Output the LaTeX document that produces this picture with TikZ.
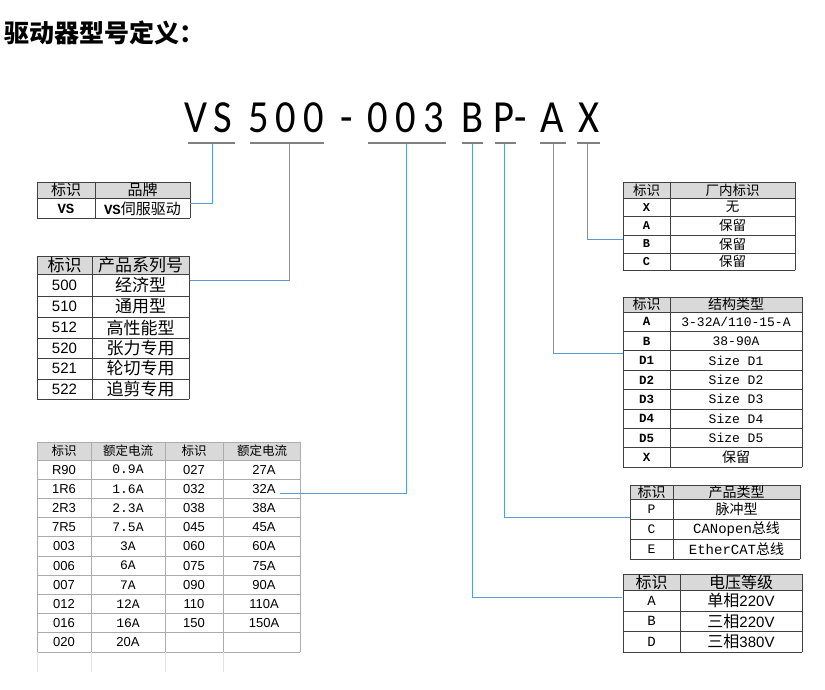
\documentclass[tikz,border=0pt]{standalone}
\usepackage{fontspec}
\newfontfamily\cjk{Noto Sans CJK SC}
\newfontfamily\mono{Liberation Mono}
\newfontfamily\lsans{Liberation Sans}
\newfontfamily\codefont[FakeStretch=0.88]{Carlito}
\definecolor{connc}{HTML}{5B9BD5}
\definecolor{hdr}{HTML}{D9D9D9}
\definecolor{gridc}{HTML}{404040}
\definecolor{ulc}{HTML}{808080}
\newcommand{\fs}[1]{\fontsize{#1}{#1}\selectfont}
\begin{document}
\begin{tikzpicture}[x=1pt,y=-1pt,
  tx/.style={inner sep=0pt, text=black},
  tline/.style={draw=gridc, line width=0.9pt},
  gline/.style={draw=gray!65, line width=1pt},
  conn/.style={draw=connc, line width=0.8pt},
  uline/.style={draw=ulc, line width=2pt},
  code/.style={inner sep=0pt, anchor=base, font=\codefont\fs{46}}]
\fill[white] (0,0) rectangle (825,689);
\useasboundingbox (0,0) rectangle (825,689);

% title
\node[tx, anchor=west, font=\cjk\bfseries\fs{25}] (title) at (4,33) {驱动器型号定义：};

% model code
\foreach \c/\x [count=\i] in {V/196,S/222.5,5/258.5,0/285.5,0/314,-/346.5,0/377.5,0/406,3/434,B/473,P/504,-/521,A/552.5,X/588.5}
  \node[code] (c\i) at (\x,132) {\c};

% underlines
\draw[uline] (188,143) -- (235,143);
\draw[uline] (250,143) -- (324,143);
\draw[uline] (368,143) -- (446,143);
\draw[uline] (462,143) -- (483,143);
\draw[uline] (495,143) -- (516,143);
\draw[uline] (540,143) -- (566,143);
\draw[uline] (577,143) -- (600,143);
\coordinate (u1) at (212,144);
\coordinate (u2) at (289,144);
\coordinate (u3) at (406,144);
\coordinate (u4) at (472,144);
\coordinate (u5) at (504,144);
\coordinate (u6) at (553,144);
\coordinate (u7) at (587,144);

% ---------- T1 brand
\fill[hdr] (37,182) rectangle (190,198);
\foreach \y in {182,198,218} \draw[tline] (37,\y) -- (190,\y);
\foreach \x in {37,95,190} \draw[tline] (\x,182) -- (\x,218);
\node[tx, font=\cjk\fs{15}] (t1a) at (66,190) {标识};
\node[tx, font=\cjk\fs{15}] (t1b) at (142.5,190) {品牌};
\node[tx, font=\mono\bfseries\fs{14}] (t1c) at (66,208.5) {VS};
\node[tx] (t1d) at (142.5,208.5) {{\mono\bfseries\fs{14}VS}{\cjk\fs{15}伺服驱动}};
\coordinate (e1) at (190,203);

% ---------- T2 series
\fill[hdr] (37,256) rectangle (189,274);
\foreach \y in {256,274,296,317,338,358,379,399} \draw[tline] (37,\y) -- (189,\y);
\foreach \x in {37,92,189} \draw[tline] (\x,256) -- (\x,399);
\node[tx, font=\cjk\fs{17}] (t2h1) at (64.5,265) {标识};
\node[tx, font=\cjk\fs{17}] (t2h2) at (140.5,265) {产品系列号};
\foreach \a/\b/\y [count=\i] in {500/经济型/285, 510/通用型/306.5, 512/高性能型/327.5, 520/张力专用/348, 521/轮切专用/368.5, 522/追剪专用/389}{
  \node[tx, font=\lsans\fs{15}] (t2a\i) at (64.5,\y) {\a};
  \node[tx, font=\cjk\fs{17}] (t2b\i) at (140.5,\y) {\b};
}
\coordinate (e2) at (190,280);

% ---------- T3 current
\fill[hdr] (37,442) rectangle (300,460);
\foreach \y in {442,460,479.2,498.4,517.6,536.8,556,575.2,594.4,613.6,632.8,652} \draw[gline] (37,\y) -- (300,\y);
\foreach \x in {37,91,165,223,300} \draw[gline] (\x,442) -- (\x,652);
\foreach \x in {37,91,165,223} \draw[draw=gray!22, line width=0.8pt] (\x,652) -- (\x,672);
\node[tx, font=\cjk\fs{12.5}] (t3h1) at (64,451) {标识};
\node[tx, font=\cjk\fs{12.5}] (t3h2) at (128,451) {额定电流};
\node[tx, font=\cjk\fs{12.5}] (t3h3) at (194,451) {标识};
\node[tx, font=\cjk\fs{12.5}] (t3h4) at (262,451) {额定电流};
\foreach \a/\b/\c/\d [count=\i] in {R90/0.9A/027/27A, 1R6/1.6A/032/32A, 2R3/2.3A/038/38A, 7R5/7.5A/045/45A, 003/3A/060/60A, 006/6A/075/75A, 007/7A/090/90A, 012/12A/110/110A, 016/16A/150/150A}{
  \pgfmathsetmacro\yy{460+19.2*\i-9.6}
  \node[tx, font=\lsans\fs{13}] (t3a\i) at (64,\yy) {\a};
  \node[tx, font=\mono\fs{13}] (t3b\i) at (128,\yy) {\b};
  \node[tx, font=\lsans\fs{13}] (t3c\i) at (194,\yy) {\c};
  \node[tx, font=\lsans\fs{13}] (t3d\i) at (264,\yy) {\d};
}
\node[tx, font=\lsans\fs{13}] (t3a10) at (64,642.4) {020};
\node[tx, font=\lsans\fs{13}] (t3b10) at (128,642.4) {20A};
\coordinate (e3) at (280,493);

% ---------- T4 factory id
\fill[hdr] (623,182) rectangle (795,198);
\foreach \y in {182,198,216.5,235,253,270} \draw[tline] (623,\y) -- (795,\y);
\foreach \x in {623,670,795} \draw[tline] (\x,182) -- (\x,270);
\node[tx, font=\cjk\fs{13.5}] (t4h1) at (646.5,190) {标识};
\node[tx, font=\cjk\fs{13.5}] (t4h2) at (732.5,190) {厂内标识};
\foreach \a/\b/\y [count=\i] in {X/无/207.2, A/保留/225.8, B/保留/244, C/保留/261.5}{
  \node[tx, font=\mono\bfseries\fs{12}] (t4a\i) at (646.5,\y) {\a};
  \node[tx, font=\cjk\fs{13.5}] (t4b\i) at (732.5,\y) {\b};
}
\coordinate (e7) at (623,239);

% ---------- T5 structure
\fill[hdr] (623,297) rectangle (802,312);
\foreach \y in {297,312,331.4,350.8,370.2,389.6,409,428.4,447.8,467.2} \draw[tline] (623,\y) -- (802,\y);
\foreach \x in {623,670,802} \draw[tline] (\x,297) -- (\x,467.2);
\node[tx, font=\cjk\fs{14}] (t5h1) at (646.5,304.5) {标识};
\node[tx, font=\cjk\fs{14}] (t5h2) at (736,304.5) {结构类型};
\foreach \a/\b [count=\i] in {A/{3-32A/110-15-A}, B/38-90A, D1/Size D1, D2/Size D2, D3/Size D3, D4/Size D4, D5/Size D5}{
  \pgfmathsetmacro\yy{312+19.4*\i-9.7}
  \node[tx, font=\mono\bfseries\fs{12.5}] (t5a\i) at (646.5,\yy) {\a};
  \node[tx, font=\mono\fs{13}] (t5b\i) at (736,\yy) {\b};
}
\node[tx, font=\mono\bfseries\fs{12.5}] (t5a8) at (646.5,457.5) {X};
\node[tx, font=\cjk\fs{14}] (t5b8) at (736,457.5) {保留};
\coordinate (e6) at (623,353);

% ---------- T6 product type
\fill[hdr] (630,485) rectangle (800,499);
\foreach \y in {485,499,519,539,559} \draw[tline] (630,\y) -- (800,\y);
\foreach \x in {630,673,800} \draw[tline] (\x,485) -- (\x,559);
\node[tx, font=\cjk\fs{14}] (t6h1) at (651.5,492) {标识};
\node[tx, font=\cjk\fs{14}] (t6h2) at (736.5,492) {产品类型};
\node[tx, font=\mono\fs{13}] (t6a1) at (651.5,509) {P};
\node[tx, font=\cjk\fs{14}] (t6b1) at (736.5,509) {脉冲型};
\node[tx, font=\mono\fs{13}] (t6a2) at (651.5,529) {C};
\node[tx] (t6b2) at (736.5,529) {{\mono\fs{14}CANopen}{\cjk\fs{14}总线}};
\node[tx, font=\mono\fs{13}] (t6a3) at (651.5,549) {E};
\node[tx] (t6b3) at (736.5,549) {{\mono\fs{14}EtherCAT}{\cjk\fs{14}总线}};
\coordinate (e5) at (630,517.5);

% ---------- T7 voltage
\fill[hdr] (623,574) rectangle (802,590);
\foreach \y in {574,590,611,631.5,652} \draw[tline] (623,\y) -- (802,\y);
\foreach \x in {623,680,802} \draw[tline] (\x,574) -- (\x,652);
\node[tx, font=\cjk\fs{16}] (t7h1) at (651.5,582) {标识};
\node[tx, font=\cjk\fs{16}] (t7h2) at (741,582) {电压等级};
\foreach \a/\c/\d/\y [count=\i] in {A/单/220V/600.5, B/三/220V/621.2, D/三/380V/641.7}{
  \node[tx, font=\mono\fs{14}] (t7a\i) at (651.5,\y) {\a};
  \node[tx] (t7b\i) at (741,\y) {{\cjk\fs{16}\c 相}{\lsans\fs{15}\d}};
}
\coordinate (e4) at (622,597);

% ---------- connectors
\draw[conn] (u1) |- (e1);
\draw[conn] (u2) |- (e2);
\draw[conn] (u3) |- (e3);
\draw[conn] (u4) |- (e4);
\draw[conn] (u5) |- (e5);
\draw[conn] (u6) |- (e6);
\draw[conn] (u7) |- (e7);
\end{tikzpicture}
\end{document}
